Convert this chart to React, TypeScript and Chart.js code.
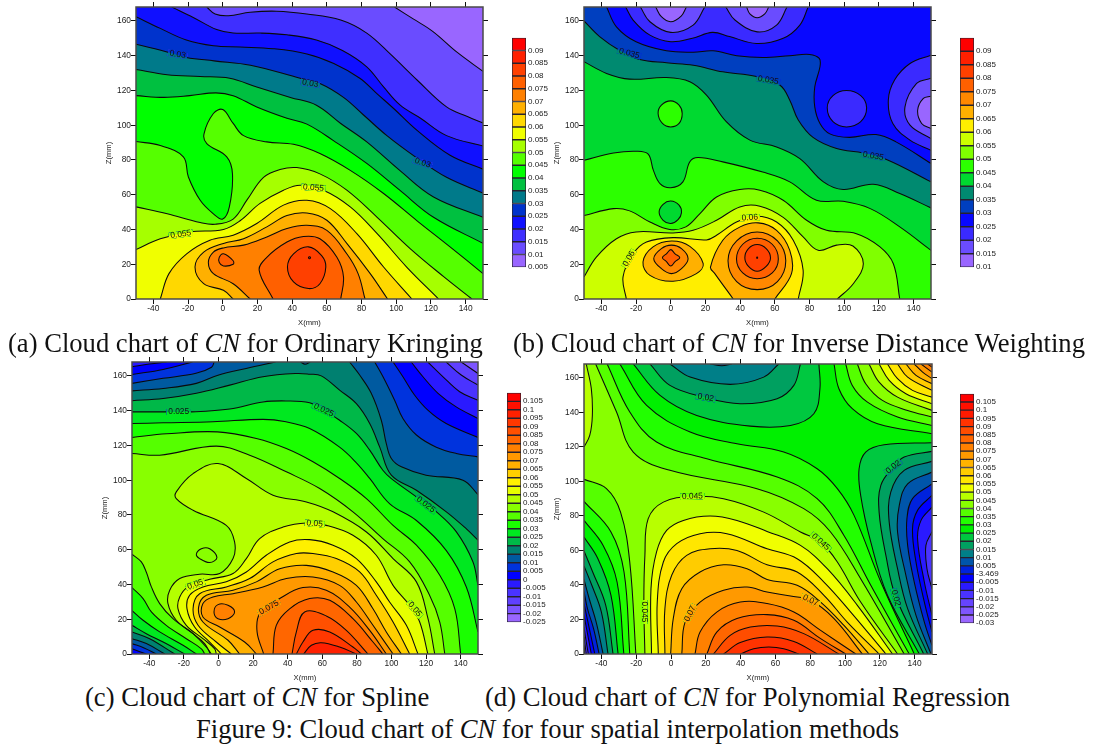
import React, { useEffect, useRef } from "react";
import { Chart, registerables } from "chart.js";

Chart.register(...registerables);

type Pt = [number, number];
type Shape = { i: number; seq: (Pt[] | Pt)[]; loop?: boolean };
type Tag = { x: number; z: number; a: number; t: string };

const X_TICKS = [-40, -20, 0, 20, 40, 60, 80, 100, 120, 140];
const Z_TICKS = [0, 20, 40, 60, 80, 100, 120, 140, 160];
const TL: Pt = [-50, 168];
const TR: Pt = [150, 168];
const BL: Pt = [-50, 0];
const BR: Pt = [150, 0];

/* ---------- colour-bar levels ---------- */
const A_TICKS = [0.005, 0.01, 0.015, 0.02, 0.025, 0.03, 0.035, 0.04, 0.045, 0.05, 0.055, 0.06, 0.065, 0.07, 0.075, 0.08, 0.085, 0.09];
const B_TICKS = [0.01, 0.015, 0.02, 0.025, 0.03, 0.035, 0.04, 0.045, 0.05, 0.055, 0.06, 0.065, 0.07, 0.075, 0.08, 0.085, 0.09];
const C_TICKS = [-0.025, -0.02, -0.015, -0.01, -0.005, 0, 0.005, 0.01, 0.015, 0.02, 0.025, 0.03, 0.035, 0.04, 0.045, 0.05, 0.055, 0.06, 0.065, 0.07, 0.075, 0.08, 0.085, 0.09, 0.095, 0.1, 0.105];
const D_TICKS = [-0.03, -0.025, -0.02, -0.015, -0.01, -0.005, 0, 0.005, 0.01, 0.015, 0.02, 0.025, 0.03, 0.035, 0.04, 0.045, 0.05, 0.055, 0.06, 0.065, 0.07, 0.075, 0.08, 0.085, 0.09, 0.095, 0.1, 0.105];

const A_COLORS = ["#9966ff", "#6a4cff", "#3f2fff", "#1010ff", "#0033cc", "#007a8a", "#00c040", "#00ff00", "#55ff00", "#a6ff00", "#f0ff00", "#ffd800", "#ffb000", "#ff8000", "#ff6000", "#ff4000", "#ff2000", "#ff0000"];
const B_COLORS = ["#9966ff", "#6a4cff", "#3a2aff", "#0808ff", "#003fbf", "#008a70", "#00d930", "#2cff00", "#80ff00", "#ccff00", "#ffee00", "#ffb000", "#ff8800", "#ff6000", "#ff4000", "#ff2000", "#ff0000"];
const C_COLORS = ["#9966ff", "#7d55ff", "#6040ff", "#4a33ff", "#2a1aff", "#0000ff", "#0033dd", "#005aa0", "#008070", "#00b848", "#00e820", "#1aff00", "#55ff00", "#88ff00", "#b4ff00", "#e6ff00", "#fff000", "#ffcf00", "#ffb000", "#ff9800", "#ff8000", "#ff6600", "#ff5000", "#ff3800", "#ff2000", "#ff1000", "#ff0000"];
const D_COLORS = ["#9966ff", "#7f55ff", "#6644ff", "#4a33ff", "#2a1aff", "#0000ff", "#0022dd", "#0055aa", "#007f88", "#00a060", "#00c840", "#00f000", "#22ff00", "#55ff00", "#88ff00", "#b8ff00", "#f0ff00", "#ffe600", "#ffcc00", "#ffb300", "#ff9900", "#ff8000", "#ff6600", "#ff4d00", "#ff3300", "#ff1a00", "#ff1000", "#ff0000"];

/* ---------- panel (a) iso-lines, [X mm, Z mm] ---------- */
const A010: Pt[] = [[99, 168], [110, 161], [121, 154], [135, 142], [150, 131]];
const A015: Pt[] = [[-9.2, 168], [-4.4, 164], [3.3, 163], [15.8, 165], [31, 165.6], [48.5, 164], [68, 160.5], [83, 153], [96.5, 141], [112, 126], [129, 110.5], [141, 105], [150, 101.3]];
const A020: Pt[] = [[-29.4, 168], [-17, 162], [-3.5, 155], [6, 153], [21.5, 153], [37, 152], [54, 149], [69, 143], [83, 133.6], [92.7, 122], [102.3, 111.5], [114, 104], [129, 94], [150, 88]];
const A025: Pt[] = [[-50, 162.4], [-36, 155.7], [-21, 149], [-5.4, 145.7], [10, 145], [29, 144], [48.5, 141], [64, 135.5], [79, 127], [89, 118], [98.5, 109.6], [112, 97], [131, 82.7], [150, 74.7]];
const A030: Pt[] = [[-50, 146.6], [-30, 141.6], [-21, 139], [-5, 137], [16, 134.5], [44.6, 127], [56, 124], [69.6, 116], [81, 106], [94.6, 94], [111, 81.8], [129, 70], [150, 61]];
const A035: Pt[] = [[-50, 132], [-32, 129], [-13, 128], [4, 127], [19.6, 122], [39, 116], [54, 111.5], [68, 101], [83, 90.4], [102, 74], [121.5, 58.7], [150, 47]];
const A040: Pt[] = [[-50, 117], [-34, 116], [-19, 117], [-4, 118.6], [6, 117], [19.6, 110.5], [37, 104], [48.5, 100.6], [64, 91], [83, 78], [102, 62.6], [121.5, 47], [150, 32]];
const A045: Pt[] = [[-50, 90.6], [-36, 88.3], [-22.7, 81.8], [-19.8, 70.2], [-13, 56.8], [-5.4, 49], [0, 46], [3.8, 53], [5.6, 72], [2.3, 81.8], [-9.2, 89.4], [-10.8, 95], [-5.4, 106.7], [0, 109], [6, 101], [12, 94], [25.4, 90.4], [40.8, 89], [56, 83.7], [73.5, 74], [92.7, 60.7], [112, 45], [131, 30], [150, 14.6]];
const A050: Pt[] = [[-50, 53], [-32, 49], [-13, 44], [-4.4, 43], [6, 46], [14, 57], [23.5, 70], [33, 74.5], [42.7, 75.6], [56, 72], [71.5, 62.6], [89, 47], [108, 29], [127.5, 12.7], [143.6, 0]];
const A055: Pt[] = [[-50, 28.4], [-36, 34.7], [-19, 38.6], [0.4, 40], [10, 45], [21.5, 55], [35, 62.6], [44.6, 65.5], [58, 62.6], [73.5, 53], [89, 37.6], [106, 18.4], [124.4, 0]];
const A060: Pt[] = [[-36, 0], [-31, 14.6], [-20.8, 26], [-7.4, 33.8], [6, 36.7], [19.6, 43.4], [35, 54], [48.5, 56.8], [62, 52], [77.3, 37.6], [92.7, 18.4], [109, 0]];
const A065: Pt[] = [[6, 0], [0.4, 5], [-11, 8.8], [-16, 18.4], [-11, 27], [0.4, 32], [12, 34.7], [25.4, 41.5], [37, 48], [48.5, 49.5], [60, 45.3], [71.5, 32], [85, 14.6], [95, 0]];
const A070: Pt[] = [[15.8, 0], [6, 8.8], [-5.4, 14.6], [-8.3, 21], [-5.4, 27], [0.4, 29.4], [12, 31], [25.4, 35.7], [37, 40.5], [48.5, 42.4], [60, 39.5], [71.5, 26], [78, 14.6], [82, 0]];
const A075: Pt[] = [[29, 0], [21, 16.5], [25.4, 24], [37, 32.8], [46.5, 36], [56, 34.7], [65.8, 24], [69.6, 12.7], [68, 0]];
const A075B: Pt[] = [[-2, 24], [0.4, 26], [6, 22], [6, 20], [0.4, 19], [-2, 21]];
const A080: Pt[] = [[37.3, 18.4], [40.8, 26], [49.4, 30], [57, 25], [59.4, 18.4], [56, 8.8], [49.4, 6], [40.8, 9.8]];
const A085: Pt[] = [[49.4, 23.8], [50.2, 24.3], [50.6, 23.6], [49.9, 23.2]];

const A_SHAPES: Shape[] = [
  { i: 1, seq: [A010, BR, BL, TL] }, { i: 2, seq: [A015, BR, BL, TL] }, { i: 3, seq: [A020, BR, BL, TL] },
  { i: 4, seq: [A025, BR, BL] }, { i: 5, seq: [A030, BR, BL] }, { i: 6, seq: [A035, BR, BL] }, { i: 7, seq: [A040, BR, BL] },
  { i: 8, seq: [A045, BR, BL] }, { i: 9, seq: [A050, BL] }, { i: 10, seq: [A055, BL] },
  { i: 11, seq: [A060] }, { i: 12, seq: [A065] }, { i: 13, seq: [A070] }, { i: 14, seq: [A075] },
  { i: 14, seq: [A075B], loop: true }, { i: 15, seq: [A080], loop: true }, { i: 16, seq: [A085], loop: true },
];
const A_TAGS: Tag[] = [
  { x: -26, z: 140.7, a: 10, t: "0.03" }, { x: 50.4, z: 124, a: 10, t: "0.03" }, { x: 115.2, z: 78.3, a: 18, t: "0.03" },
  { x: -24.2, z: 37.2, a: -8, t: "0.055" }, { x: 52.3, z: 64, a: 5, t: "0.055" },
];

/* ---------- panel (b) iso-lines ---------- */
const B030: Pt[] = [[-37, 168], [-31.3, 156.6], [-20, 148], [-2.5, 142.8], [13, 142], [24.4, 142.8], [38, 140], [53, 139], [68.6, 140], [80, 140.7], [85.6, 138.4], [86, 133.6], [83, 122], [83, 110.5], [86, 101], [91.7, 95], [103, 93], [118.3, 94.6], [129.8, 90.4], [150, 78]];
const B035: Pt[] = [[-50, 160], [-41, 151], [-29.4, 143], [-17.9, 137.8], [-2.5, 135.9], [13, 134.5], [30, 130.7], [49.4, 128], [63, 123], [68.6, 114.4], [73.5, 103], [82, 93], [95.6, 86.6], [111, 84], [125, 80], [150, 67.4]];
const B040: Pt[] = [[-50, 136.5], [-37, 129.8], [-23.7, 126.5], [-2.5, 127.4], [11, 125], [20.6, 117.3], [32, 102], [45.6, 91.4], [61, 87.5], [74.4, 80.8], [88, 67.4], [99.4, 63], [116.7, 66], [132, 60.7], [150, 52.4]];
const B045: Pt[] = [[-50, 79.8], [-33, 84], [-19.8, 85], [-13, 83.3], [-10, 74], [-6.2, 66.4], [0, 64], [7, 67.4], [11, 79], [15.8, 81.4], [30, 78.9], [53, 73], [68.6, 67.4], [84, 56.8], [99.4, 56.2], [115, 52], [132, 41.5], [150, 28]];
const B045LOW: Pt[] = [[-6.7, 50], [-4.4, 54.5], [0, 56.4], [4.8, 54], [6.2, 49.7], [4.2, 45.7], [0, 43.4], [-4.4, 45.3]];
const B045HIGH: Pt[] = [[-7.3, 106.7], [-5.4, 111.5], [0, 114], [4.8, 111.5], [6.6, 106.7], [4.8, 101], [0, 99], [-4.8, 101]];
const B050: Pt[] = [[-50, 48], [-33, 52], [-23.7, 50.7], [-12, 44.3], [-0.6, 40], [8.7, 41.5], [16.7, 49], [26.4, 58.7], [39.8, 63], [51.4, 62.6], [64.8, 56.8], [78.3, 45.3], [89.8, 39.5], [107, 37.6], [120.6, 30], [128.3, 20.3], [132, 0]];
const B055: Pt[] = [[-50, 12.7], [-43, 24], [-31.3, 34.7], [-20, 38.6], [1.3, 38], [12.9, 39.5], [26.4, 45.3], [39.8, 53], [51.4, 53.4], [64.8, 47], [76.3, 35.7], [85, 28], [95.6, 31], [105, 30.5], [111, 20.3], [105.2, 8.8], [96, 0]];
const B060: Pt[] = [[-25.6, 0], [-27.5, 12.7], [-21.7, 26], [-14, 32.8], [1.3, 35.3], [20.6, 34], [26.4, 36.7], [37.9, 44.3], [49.4, 47.6], [61, 44.3], [70.6, 33.8], [76.3, 16.5], [73.5, 0]];
const B065L: Pt[] = [[-16, 21.3], [-10.2, 30], [0.4, 33.4], [11, 30.3], [18.7, 20.3], [14.8, 14.6], [1.3, 10.2], [-12, 13.6]];
const B065R: Pt[] = [[36, 0], [25.4, 14.6], [22.9, 18.4], [30, 33.8], [40, 41.5], [50.4, 43.8], [61, 39.5], [68.6, 28], [69.6, 14.6], [60, 0]];
const B070L: Pt[] = [[-9.8, 23.2], [-5.4, 29], [0.4, 31], [6.2, 29], [10, 23.2], [6.2, 17.5], [0.4, 14.6], [-5.4, 17.5]];
const B075L: Pt[] = [[-4.8, 23.8], [-2.5, 26], [0, 28.4], [2.5, 26], [5.2, 23.8], [2.5, 21.5], [0, 19], [-2.5, 21.5]];
const B070R: Pt[] = [[33, 22], [38, 33.5], [49.8, 38.6], [61.5, 33.5], [66.3, 22], [61.5, 10], [49.8, 5.4], [38, 10]];
const B075R: Pt[] = [[37.9, 23], [41.5, 31.5], [49.8, 35], [58.5, 31.5], [62, 23], [58.5, 15], [49.8, 11.7], [41.5, 15]];
const B080R: Pt[] = [[42.7, 23.8], [44.8, 29], [49.8, 31.3], [55, 29], [57.5, 23.8], [55, 18.8], [49.8, 16], [44.8, 18.8]];
const B085R: Pt[] = [[49.5, 23.8], [49.8, 24.2], [50.1, 23.8], [49.8, 23.4]];
const B025TOP: Pt[] = [[-26, 168], [-21.7, 160.5], [-12, 151.8], [0, 148], [12.5, 150], [24, 153.4], [33.9, 151], [49.4, 147], [64.8, 150], [74.4, 157.6], [79.2, 168]];
const B020TOPL: Pt[] = [[-17.5, 168], [-12, 159.5], [0, 153.4], [12.9, 157.6], [19.6, 168]];
const B020TOPR: Pt[] = [[31.7, 168], [37, 160.5], [49.8, 153.7], [61, 157.6], [67, 168]];
const B015TOPL: Pt[] = [[-8.7, 168], [-5.4, 162.4], [0, 159.5], [6, 162.8], [9, 168]];
const B015TOPR: Pt[] = [[43.7, 168], [45.6, 164], [49.8, 161.8], [54.2, 164], [56.5, 168]];
const B025MID: Pt[] = [[90.2, 110], [93.5, 117], [101.3, 120], [109.5, 117], [112.9, 110], [109.5, 102], [101.3, 99], [93.5, 102]];
const B025SIDE: Pt[] = [[150, 140.3], [137.9, 135.5], [129, 126], [125.4, 114.4], [128, 101], [137.9, 91.4], [150, 85.6]];
const B020SIDE: Pt[] = [[150, 127], [141.7, 124], [135, 110.5], [137.9, 100], [150, 92.3]];
const B015SIDE: Pt[] = [[150, 116.7], [145.6, 115.4], [142.3, 108.6], [144.6, 101], [150, 98]];

const B_SHAPES: Shape[] = [
  { i: 4, seq: [B030, BR, BL, TL] }, { i: 5, seq: [B035, BR, BL] }, { i: 6, seq: [B040, BR, BL] }, { i: 7, seq: [B045, BR, BL] },
  { i: 6, seq: [B045LOW], loop: true }, { i: 7, seq: [B045HIGH], loop: true },
  { i: 8, seq: [B050, BL] }, { i: 9, seq: [B055, BL] }, { i: 10, seq: [B060] },
  { i: 11, seq: [B065L], loop: true }, { i: 11, seq: [B065R] },
  { i: 12, seq: [B070L], loop: true }, { i: 13, seq: [B075L], loop: true },
  { i: 12, seq: [B070R], loop: true }, { i: 13, seq: [B075R], loop: true }, { i: 14, seq: [B080R], loop: true }, { i: 15, seq: [B085R], loop: true },
  { i: 2, seq: [B025TOP] }, { i: 1, seq: [B020TOPL] }, { i: 1, seq: [B020TOPR] }, { i: 0, seq: [B015TOPL] }, { i: 0, seq: [B015TOPR] },
  { i: 2, seq: [B025MID], loop: true }, { i: 2, seq: [B025SIDE] }, { i: 1, seq: [B020SIDE] }, { i: 0, seq: [B015SIDE] },
];
const B_TAGS: Tag[] = [
  { x: -24, z: 141.3, a: 15, t: "0.035" }, { x: 56.2, z: 125.9, a: 10, t: "0.035" }, { x: 116.7, z: 82.3, a: 10, t: "0.035" },
  { x: 45.6, z: 46.8, a: -3, t: "0.06" }, { x: -24, z: 23.2, a: -60, t: "0.06" },
];

/* ---------- panel (c) iso-lines ---------- */
const C_T7: Pt[] = [[140.3, 168], [150, 161.4]];
const C_T6: Pt[] = [[131.6, 168], [140.3, 160.5], [150, 154.7]];
const C_T5: Pt[] = [[121, 168], [129.8, 159.5], [139.4, 150.9], [150, 146]];
const C_T4: Pt[] = [[111.4, 168], [118.2, 159.5], [126.9, 150], [137.4, 142.2], [150, 135.5]];
const C_T3: Pt[] = [[100.9, 168], [106.6, 159.5], [113.3, 149], [121, 140.3], [131.6, 132.6], [150, 124.6]];
const C_T2: Pt[] = [[90.3, 168], [95.1, 159.5], [101.8, 146], [106.6, 135.5], [114.4, 126], [125.9, 119], [137.4, 115.4], [150, 113.4]];
const C_T1: Pt[] = [[75.8, 168], [81.6, 160.5], [88.3, 150], [94.1, 134.5], [97, 121], [99.9, 112.5], [105.7, 107.7], [120, 102.9], [141.3, 100], [150, 91.7]];
const C_L000: Pt[] = [[-50, 165.3], [-40, 166.8], [-30, 168]];
const C_L005: Pt[] = [[-50, 160.8], [-32, 163.7], [-15, 168]];
const C_L010: Pt[] = [[-50, 155.7], [-32, 158.6], [-13, 161.5], [-4, 165], [-2.5, 168]];
const C_L015: Pt[] = [[-50, 151.4], [-32, 152.8], [-12.8, 155.7], [-0.3, 160.4], [16, 164.3], [33, 168]];
const C020: Pt[] = [[-50, 145.7], [-32, 147], [-12.8, 150], [6.5, 154.7], [25.7, 159.5], [45, 161.4], [52.7, 161], [59.4, 160], [70, 151.8], [79.7, 144], [87.4, 132.6], [93.2, 119], [99.9, 102.9], [114.4, 94.2], [131.7, 81.8], [143.3, 72], [150, 65.5]];
const C025: Pt[] = [[-50, 139.3], [-30, 139.3], [-15.7, 139.3], [6.5, 141], [25.7, 145], [39, 145.6], [52.7, 144.5], [60.8, 140.3], [70, 134.5], [79.7, 126.9], [87.4, 117.3], [95, 105.7], [99.9, 100.9], [114.4, 90.4], [126, 81.8], [137.4, 70.4], [147, 53.2], [150, 39.5]];
const C030: Pt[] = [[-50, 132.6], [-32, 133], [-3.2, 133.6], [25.7, 135], [39, 133.6], [52.7, 129.7], [70, 119], [79.7, 110], [87.4, 101], [99, 86.4], [114.4, 76.8], [131.7, 59.5], [143.3, 38.4], [150, 12.7]];
const C035: Pt[] = [[-50, 124.6], [-30, 126.7], [-0.6, 127.8], [21.9, 124], [39.2, 118.2], [54.6, 110.6], [70, 101], [85.5, 89.4], [100.9, 74], [114.4, 62.6], [127.9, 45.3], [136.6, 26], [140, 0]];
const C040: Pt[] = [[-50, 115.4], [-34, 114.4], [-1.3, 119.6], [18, 114.4], [39.2, 104.8], [58.5, 95.2], [77.7, 81.8], [95, 66.4], [110.5, 53], [122, 33.8], [127.9, 18.4], [130.8, 0]];
const C_B005: Pt[] = [[-41.7, 0], [-50, 3]];
const C_B010: Pt[] = [[-36, 0], [-43, 3.5], [-50, 6]];
const C_B015: Pt[] = [[-31, 0], [-41.7, 6], [-50, 8.8]];
const C_B020: Pt[] = [[-25.3, 0], [-39.8, 8.8], [-50, 12.7]];
const C_B025: Pt[] = [[-19.6, 0], [-32, 6.9], [-41.7, 11.7], [-50, 16.5]];
const C_B030: Pt[] = [[-12.8, 0], [-20.5, 5], [-34, 12.7], [-43.6, 19.4], [-50, 25]];
const C_B035: Pt[] = [[-8, 0], [-9.9, 3], [-18.6, 8.8], [-30.2, 16.5], [-38.8, 24.2], [-43.6, 31.9], [-50, 38.2]];
const C_B040: Pt[] = [[-4.7, 0], [-8, 6], [-14.7, 11.7], [-26.3, 20.3], [-34, 29], [-38.8, 38.6], [-41.7, 47], [-44.6, 53], [-50, 57.4]];
const C045: Pt[] = [[-4.1, 0], [-7, 4], [-14.7, 11.7], [-24.4, 19.4], [-29.2, 29], [-28.2, 36.7], [-22.4, 43.4], [-10.9, 45.9], [0.7, 46.3], [8.4, 54.9], [9.3, 64.5], [4.5, 74], [-14.7, 82.7], [-24.4, 89.4], [-24.4, 93.3], [-14.7, 103.8], [-0.3, 109.6], [16.1, 101], [31.5, 91.4], [50.8, 87.5], [66.2, 81.8], [85.5, 70.2], [100.9, 54.9], [114.4, 41.5], [121.1, 20.3], [125, 0]];
const C045LOW: Pt[] = [[-12.8, 57.4], [-9.9, 60.6], [-5.1, 60.6], [-0.9, 55.5], [-5.1, 52.6], [-10.9, 54.9]];
const C050: Pt[] = [[-1.3, 0], [-2.2, 3], [-9, 8.8], [-18.6, 16.5], [-23.4, 26], [-22.4, 32.8], [-17.6, 38.6], [-5.1, 43], [8.4, 46.3], [16.1, 54.9], [23.8, 66.4], [37.3, 73], [50.8, 75.4], [62.3, 74], [77.7, 68.3], [91.2, 56.8], [100.9, 39.5], [110.5, 28], [116.3, 18.4], [121, 0]];
const C055: Pt[] = [[1.6, 0], [-5.1, 6.9], [-13.8, 15.5], [-18.2, 26], [-16.7, 33.8], [-9, 38.6], [4.5, 41.5], [16.1, 47.2], [27.6, 56.8], [41.1, 64.5], [52.7, 65.8], [66.2, 62.6], [79.7, 54.9], [91.2, 41.5], [98.9, 29.9], [108.6, 16.5], [115.3, 0]];
const C060: Pt[] = [[7.4, 0], [-1.3, 6.9], [-11.8, 16.5], [-14.7, 26], [-10.9, 34.7], [4.5, 38.6], [18, 43.4], [31.5, 53], [45, 57.8], [54.6, 57.8], [68.1, 54.9], [81.6, 47.2], [91.2, 33.8], [100.9, 18.4], [110.5, 0]];
const C065: Pt[] = [[12.2, 0], [5.5, 7.9], [-9, 18.4], [-11.5, 27], [-7, 33.8], [8.4, 36.7], [21.9, 41.5], [35.4, 49], [50.8, 51], [66.2, 47.2], [79.7, 39.5], [89.3, 26], [97, 12.7], [105.7, 0]];
const C070: Pt[] = [[21.9, 0], [15.1, 6.9], [0.7, 15.5], [-9, 21.3], [-9, 29], [-3.2, 32.8], [8.4, 34.7], [25.7, 38.6], [39.2, 43.4], [54.6, 44.3], [70, 39.5], [79.7, 29.9], [89.3, 16.5], [100.9, 0]];
const C075: Pt[] = [[26.1, 0], [22.3, 12.7], [23.8, 23.2], [35.4, 31.9], [48.8, 38.2], [62.3, 36.7], [75.8, 27], [87.4, 13.6], [97, 0]];
const C075B: Pt[] = [[-2.6, 24.2], [-0.3, 28.4], [5.5, 28], [9.3, 24.2], [5.5, 20.3], [-0.3, 20.3]];
const C080: Pt[] = [[31.5, 0], [33.4, 16.5], [41.1, 26], [52.7, 31.9], [64.3, 30.9], [77.7, 20.3], [89.3, 6.9], [95, 0]];
const C085: Pt[] = [[42.5, 0], [45, 12.7], [49.8, 24.2], [62.3, 21.9], [73.9, 13.6], [86.4, 0]];
const C090: Pt[] = [[45, 0], [48.8, 6.9], [54.6, 13.6], [64.3, 12.7], [77.7, 4], [82.6, 0]];
const C095: Pt[] = [[49.2, 0], [53.7, 5], [59.4, 6.5], [70, 4], [79.7, 0]];
const C_BLIP: Pt[] = [[47.5, 168], [50, 166.7], [53, 168]];

const C_SHAPES: Shape[] = [
  { i: 2, seq: [C_T7, BR, BL, TL] }, { i: 3, seq: [C_T6, BR, BL, TL] }, { i: 4, seq: [C_T5, BR, BL, TL] },
  { i: 5, seq: [C_L000, C_T4, BR, BL] },
  { i: 6, seq: [C_L005, C_T3, BR, C_B005] }, { i: 7, seq: [C_L010, C_T2, BR, C_B010] }, { i: 8, seq: [C_L015, C_T1, BR, C_B015] },
  { i: 7, seq: [C_BLIP] },
  { i: 9, seq: [C020, BR, C_B020] }, { i: 10, seq: [C025, BR, C_B025] }, { i: 11, seq: [C030, BR, C_B030] },
  { i: 12, seq: [C035, C_B035] }, { i: 13, seq: [C040, C_B040] }, { i: 14, seq: [C045] }, { i: 13, seq: [C045LOW], loop: true },
  { i: 15, seq: [C050] }, { i: 16, seq: [C055] }, { i: 17, seq: [C060] }, { i: 18, seq: [C065] }, { i: 19, seq: [C070] },
  { i: 20, seq: [C075] }, { i: 20, seq: [C075B], loop: true }, { i: 21, seq: [C080] }, { i: 22, seq: [C085] }, { i: 23, seq: [C090] }, { i: 24, seq: [C095] },
];
const C_TAGS: Tag[] = [
  { x: -23, z: 139.3, a: 0, t: "0.025" }, { x: 60.8, z: 140.3, a: 25, t: "0.025" }, { x: 119.8, z: 86, a: 38, t: "0.025" },
  { x: 55.6, z: 75, a: 5, t: "0.05" }, { x: -13.4, z: 40, a: -18, t: "0.05" }, { x: 113.4, z: 25.7, a: 50, t: "0.05" },
  { x: 29.2, z: 26.7, a: -30, t: "0.075" },
];

/* ---------- panel (d) iso-lines ---------- */
const D_LM20: Pt[] = [[-49.6, 0], [-50, 5]];
const D_LM15: Pt[] = [[-48.7, 0], [-50, 9.8]];
const D_LM10: Pt[] = [[-47.5, 0], [-49, 8.9], [-50, 15.6]];
const D_LM05: Pt[] = [[-45.8, 0], [-47.8, 10.8], [-50, 22.4]];
const D_L000: Pt[] = [[-43.8, 0], [-46.5, 12.7], [-50, 29.2]];
const D_L005: Pt[] = [[-41.3, 0], [-44.5, 14.7], [-48, 26.3], [-50, 36.3]];
const D_L010: Pt[] = [[-39, 0], [-43, 18.5], [-47, 32], [-50, 43.2]];
const D_L015: Pt[] = [[-36.2, 0], [-40, 24.3], [-45.5, 39.8], [-50, 51]];
const D_L020: Pt[] = [[-33.3, 0], [-37.5, 28.2], [-45, 47.5], [-50, 59.7]];
const D_L025: Pt[] = [[-30.4, 0], [-34.5, 34], [-42, 55.2], [-50, 67.8]];
const D_L030: Pt[] = [[-27.1, 0], [-31, 41.7], [-39, 62.9], [-50, 77.4]];
const D_L035: Pt[] = [[-23.7, 0], [-27, 47.5], [-34.5, 70.7], [-50, 88.4]];
const D_L040: Pt[] = [[-20.2, 0], [-23.7, 53.3], [-29, 82.2], [-37.1, 95.8], [-50, 101.2]];
const D_RM10: Pt[] = [[150, 70.9], [146.5, 62.9], [147.1, 49.4], [150, 37.8]];
const D_RM05: Pt[] = [[150, 85.1], [143.7, 77.4], [141.7, 66.8], [145.6, 41.7], [150, 22.4]];
const D_R000: Pt[] = [[150, 91.9], [141.7, 83.2], [138.8, 72.6], [140.8, 53.3], [145.6, 30.1], [150, 12.7]];
const D_R005: Pt[] = [[150, 98.6], [138.8, 90], [135.6, 78.4], [136, 62.9], [139.8, 41.7], [145.6, 18.5], [150, 5]];
const D_R010: Pt[] = [[150, 105.4], [136, 98.6], [131.2, 86.1], [130.2, 70.7], [135, 45.6], [140.8, 22.4], [149.4, 0]];
const D_R015: Pt[] = [[150, 111.6], [134, 106.4], [126.3, 93.8], [125.4, 76.4], [130.2, 49.4], [136, 26.3], [147.5, 0]];
const D_R020: Pt[] = [[150, 117.4], [134, 114.1], [127.7, 108.3], [120.6, 97.7], [119.6, 82.2], [123.5, 57.1], [129.2, 33], [145.2, 0]];
const D_R025: Pt[] = [[150, 122.4], [122.5, 121.2], [111.9, 117], [108.1, 107.3], [109, 91.9], [114.8, 64.9], [124.4, 34], [142.7, 0]];
const D_T010: Pt[] = [[22.5, 168], [29.2, 167], [35, 168]];
const D_T015: Pt[] = [[-0.6, 168], [11, 160.4], [34, 156.2], [53.3, 160.4], [61.9, 168]];
const D_T020: Pt[] = [[-12.1, 168], [-0.6, 155.6], [20, 148.5], [39.8, 145], [61, 147.9], [70.6, 155.6], [74.4, 168]];
const D_T025: Pt[] = [[-21.7, 168], [-6.3, 149.8], [14.8, 138.2], [45.6, 132], [68.7, 132.4], [82.1, 139.2], [85.6, 153.7], [85, 168]];
const D_M030: Pt[] = [[-29.4, 168], [-14, 144], [11, 128.6], [37.9, 121.8], [64.8, 117], [84, 107.3], [95.6, 95.8], [105.2, 80.3], [120.6, 41.7], [139.8, 0]];
const D_M035: Pt[] = [[-36.7, 168], [-23.7, 140.2], [-8.3, 122.8], [20.6, 113.1], [61, 102.5], [84, 90], [99.4, 68.7], [114.8, 39.8], [136.9, 0]];
const D_M040: Pt[] = [[-43.3, 168], [-31.3, 140.2], [-21.7, 117], [-0.6, 106.4], [49.4, 95.8], [76.3, 84.2], [91.7, 70.7], [109, 43.6], [134, 0]];
const D_TL045: Pt[] = [[-48.7, 168], [-45.8, 153.7], [-45.2, 138.2], [-46.7, 126.6], [-50, 119.9]];
const D_M045: Pt[] = [[-15, 0], [-15.6, 30.1], [-15, 57.1], [-13.1, 78.4], [-4.4, 88], [12.3, 91.3], [30.2, 90], [53.3, 82.2], [74.4, 70.7], [86, 64.9], [95.6, 53.3], [109, 30.1], [130.2, 0]];
const D_M050: Pt[] = [[-11.2, 0], [-11.5, 37.8], [-8.3, 59.1], [-2.5, 71.6], [7.1, 77.4], [22.5, 79.9], [37.9, 77.4], [55.2, 71], [74.4, 62.9], [89.8, 49.4], [107.1, 28.2], [127.3, 0]];
const D_M055: Pt[] = [[-7.3, 0], [-7.9, 30.1], [-4.4, 53.3], [3.3, 63.9], [16.7, 69.7], [32.1, 69.7], [55.2, 61], [72.5, 55.2], [87.9, 41.7], [103.3, 24.3], [123.5, 0]];
const D_M060: Pt[] = [[-3.5, 0], [-3.5, 26.3], [0.4, 45.6], [9, 57.1], [22.5, 61], [37.9, 60], [55.2, 51.7], [72.5, 47.5], [87.9, 34], [101.3, 18.5], [119.6, 0]];
const D_M065: Pt[] = [[-0.2, 0], [1.3, 20.5], [6.2, 37.8], [16.7, 47.5], [30.2, 51.7], [43.7, 49.4], [55.2, 43.2], [72.5, 39.8], [86, 30.1], [99.4, 16.6], [113.8, 0]];
const D_M070: Pt[] = [[6.2, 0], [8.1, 18.5], [16.7, 30.1], [30.2, 36.9], [43.7, 38.8], [55.2, 35.9], [68.7, 33.6], [80.2, 31.1], [93.7, 20.5], [110, 0]];
const D_M075: Pt[] = [[13.8, 0], [16.7, 12.7], [26.3, 24.3], [39.8, 30.1], [55.2, 29.2], [70.6, 24.3], [86, 13.7], [106.2, 0]];
const D_M080: Pt[] = [[20.6, 0], [26.3, 12.7], [37.9, 20.5], [55.2, 22.8], [70.6, 19.5], [86, 8.9], [100.4, 0]];
const D_M085: Pt[] = [[24.4, 0], [34, 10.8], [45.6, 15.6], [61, 16.2], [76.3, 11.8], [96.5, 0]];
const D_M090: Pt[] = [[30.2, 0], [39.8, 6.6], [55.2, 9.8], [70.6, 7.3], [84, 0]];
const D_M095: Pt[] = [[39.8, 0], [47.5, 3.1], [56.2, 4.1], [64.8, 3.1], [73.5, 0]];
const D_C030: Pt[] = [[93.7, 168], [96.5, 153.7], [104.2, 142.1], [118.7, 133.4], [150, 127.6]];
const D_C035: Pt[] = [[100.4, 168], [104.2, 155.6], [112.9, 145.9], [130.2, 137.3], [150, 132.4]];
const D_C040: Pt[] = [[107.1, 168], [111.9, 156.6], [121.5, 146.9], [136, 141.1], [150, 137.3]];
const D_C045: Pt[] = [[113.8, 168], [119.6, 157.5], [130.2, 148.8], [150, 141.1]];
const D_C050: Pt[] = [[119.6, 168], [125.4, 158.5], [135, 150.8], [150, 145]];
const D_C055: Pt[] = [[124.4, 168], [130.2, 159.5], [138.8, 152.7], [150, 148.8]];
const D_C060: Pt[] = [[130.2, 168], [136, 160.4], [150, 152.7]];
const D_C065: Pt[] = [[135, 168], [140.8, 161.4], [150, 156.6]];
const D_C070: Pt[] = [[139.8, 168], [144.6, 163.3], [150, 159.5]];
const D_C075: Pt[] = [[143.7, 168], [150, 163.3]];
const D_C080: Pt[] = [[147.5, 168], [150, 166.2]];

const D_SHAPES: Shape[] = [
  { i: 2, seq: [D_LM20, TL, TR, BR] }, { i: 3, seq: [D_LM15, TL, TR, BR] },
  { i: 4, seq: [D_LM10, TL, TR, D_RM10, BR] }, { i: 5, seq: [D_LM05, TL, TR, D_RM05, BR] },
  { i: 6, seq: [D_L000, TL, TR, D_R000, BR] }, { i: 7, seq: [D_L005, TL, TR, D_R005, BR] },
  { i: 8, seq: [D_L010, TL, TR, D_R010] },
  { i: 9, seq: [D_L015, TL, D_T015, TR, D_R015] }, { i: 7, seq: [D_T010] },
  { i: 10, seq: [D_L020, TL, D_T020, TR, D_R020] }, { i: 11, seq: [D_L025, TL, D_T025, TR, D_R025] },
  { i: 12, seq: [D_L030, TL, D_M030] }, { i: 12, seq: [D_C030, TR] },
  { i: 13, seq: [D_L035, TL, D_M035] }, { i: 13, seq: [D_C035, TR] },
  { i: 14, seq: [D_L040, TL, D_M040] }, { i: 14, seq: [D_C040, TR] },
  { i: 15, seq: [D_TL045, TL] }, { i: 15, seq: [D_M045] }, { i: 15, seq: [D_C045, TR] },
  { i: 16, seq: [D_M050] }, { i: 16, seq: [D_C050, TR] }, { i: 17, seq: [D_M055] }, { i: 17, seq: [D_C055, TR] },
  { i: 18, seq: [D_M060] }, { i: 18, seq: [D_C060, TR] }, { i: 19, seq: [D_M065] }, { i: 19, seq: [D_C065, TR] },
  { i: 20, seq: [D_M070] }, { i: 20, seq: [D_C070, TR] }, { i: 21, seq: [D_M075] }, { i: 21, seq: [D_C075, TR] },
  { i: 22, seq: [D_M080] }, { i: 22, seq: [D_C080, TR] }, { i: 23, seq: [D_M085] }, { i: 24, seq: [D_M090] }, { i: 25, seq: [D_M095] },
];
const D_TAGS: Tag[] = [
  { x: 20, z: 148.5, a: 10, t: "0.02" }, { x: 127.7, z: 108.3, a: -38, t: "0.02" }, { x: 129.2, z: 32.4, a: 75, t: "0.02" },
  { x: 12.3, z: 91.3, a: -2, t: "0.045" }, { x: 86, z: 64.9, a: 42, t: "0.045" }, { x: -15.4, z: 24.3, a: 90, t: "0.045" },
  { x: 80.2, z: 31.1, a: 25, t: "0.07" }, { x: 11, z: 23.4, a: -65, t: "0.07" },
];

const SANS = "'Liberation Sans', Arial, sans-serif";
const isCurve = (s: Pt[] | Pt): s is Pt[] => Array.isArray((s as any)[0]);

function ContourPanel(p: { left: number; top: number; w: number; h: number; shapes: Shape[]; colors: string[]; base: number; tags: Tag[] }) {
  const ref = useRef<HTMLCanvasElement>(null);
  useEffect(() => {
    const curves: Pt[][] = [];
    const loops = new Set<number>();
    const index = new Map<Pt[], number>();
    p.shapes.forEach((s) =>
      s.seq.forEach((item) => {
        if (isCurve(item) && !index.has(item)) {
          index.set(item, curves.length);
          if (s.loop) loops.add(curves.length);
          curves.push(item);
        }
      })
    );
    const paint = (chart: any) => {
      const { ctx, chartArea: a, scales } = chart;
      ctx.fillStyle = p.colors[p.base];
      ctx.fillRect(a.left, a.top, a.right - a.left, a.bottom - a.top);
      for (const s of p.shapes) {
        ctx.beginPath();
        let started = false;
        for (const item of s.seq) {
          if (isCurve(item)) {
            const meta = chart.getDatasetMeta(index.get(item));
            meta.dataset.updateControlPoints(a, "x");
            const pts = meta.data;
            if (started) ctx.lineTo(pts[0].x, pts[0].y);
            else ctx.moveTo(pts[0].x, pts[0].y);
            started = true;
            for (let k = 1; k < pts.length; k++) {
              ctx.bezierCurveTo(pts[k - 1].cp2x, pts[k - 1].cp2y, pts[k].cp1x, pts[k].cp1y, pts[k].x, pts[k].y);
            }
            if (s.loop) {
              const l = pts[pts.length - 1];
              ctx.bezierCurveTo(l.cp2x, l.cp2y, pts[0].cp1x, pts[0].cp1y, pts[0].x, pts[0].y);
            }
          } else {
            const x = scales.x.getPixelForValue(item[0]);
            const y = scales.y.getPixelForValue(item[1]);
            if (started) ctx.lineTo(x, y);
            else ctx.moveTo(x, y);
            started = true;
          }
        }
        ctx.closePath();
        ctx.fillStyle = p.colors[s.i];
        ctx.fill();
      }
    };
    const bands = {
      id: "bands",
      afterDatasetsUpdate(chart: any) {
        loops.forEach((d) => {
          const line = chart.getDatasetMeta(d).dataset;
          line._loop = true;
          line._fullLoop = true;
          line.points = line.points;
        });
      },
      beforeDatasetsDraw(chart: any) {
        const { ctx, chartArea: a } = chart;
        ctx.save();
        ctx.beginPath();
        ctx.rect(a.left, a.top, a.right - a.left, a.bottom - a.top);
        ctx.clip();
        paint(chart);
        ctx.restore();
      },
      afterDatasetsDraw(chart: any) {
        const { ctx, chartArea: a, scales } = chart;
        ctx.font = `8.4px ${SANS}`;
        for (const t of p.tags) {
          const x = scales.x.getPixelForValue(t.x);
          const y = scales.y.getPixelForValue(t.z);
          const w = ctx.measureText(t.t).width + 3;
          const rad = (t.a * Math.PI) / 180;
          ctx.save();
          ctx.beginPath();
          ctx.rect(a.left, a.top, a.right - a.left, a.bottom - a.top);
          ctx.clip();
          ctx.translate(x, y);
          ctx.rotate(rad);
          ctx.beginPath();
          ctx.rect(-w / 2, -3, w, 6);
          ctx.clip();
          ctx.rotate(-rad);
          ctx.translate(-x, -y);
          paint(chart);
          ctx.restore();
          ctx.save();
          ctx.translate(x, y);
          ctx.rotate(rad);
          ctx.textAlign = "center";
          ctx.textBaseline = "middle";
          ctx.fillStyle = "#111";
          ctx.font = `8.4px ${SANS}`;
          ctx.fillText(t.t, 0, 0);
          ctx.restore();
        }
        ctx.save();
        ctx.strokeStyle = "#4a4a4a";
        ctx.lineWidth = 1.5;
        ctx.strokeRect(a.left, a.top, a.right - a.left, a.bottom - a.top);
        ctx.restore();
      },
    };
    const grid = { display: true, drawOnChartArea: false, drawTicks: true, tickLength: 5, color: "#111", lineWidth: 1 };
    const labelFont = { family: SANS, size: 8.4 };
    const xTicks = (s: any) => { s.ticks = X_TICKS.map((value) => ({ value })); };
    const zTicks = (s: any) => { s.ticks = Z_TICKS.map((value) => ({ value })); };
    const chart = new Chart(ref.current!, {
      type: "line",
      data: {
        datasets: curves.map((c) => ({
          data: c.map(([x, y]) => ({ x, y })),
          borderColor: "#0a0a0a",
          borderWidth: 1.05,
          pointRadius: 0,
          tension: 0.38,
          fill: false,
        })),
      } as any,
      options: {
        animation: false,
        responsive: false,
        events: [],
        layout: { padding: 0 },
        plugins: { legend: { display: false }, tooltip: { enabled: false } },
        scales: {
          x: {
            type: "linear", position: "bottom", min: -50, max: 150, afterBuildTicks: xTicks,
            afterFit: (s: any) => { s.height = 28; },
            grid, border: { display: false },
            ticks: { font: labelFont, color: "#222", padding: 0, maxRotation: 0, autoSkip: false, callback: (v: any) => String(v) },
            title: { display: true, text: "X(mm)", font: { family: SANS, size: 7.6 }, color: "#222", padding: 0 },
          },
          y: {
            type: "linear", position: "left", min: 0, max: 168, afterBuildTicks: zTicks,
            afterFit: (s: any) => { s.width = 32; },
            grid, border: { display: false },
            ticks: { font: labelFont, color: "#222", padding: 0, autoSkip: false, callback: (v: any) => String(v) },
            title: { display: true, text: "Z(mm)", font: { family: SANS, size: 7.6 }, color: "#222", padding: 0 },
          },
          x2: {
            type: "linear", position: "top", min: -50, max: 150, afterBuildTicks: xTicks,
            afterFit: (s: any) => { s.height = p.top > 7 ? 7 : p.top; },
            grid, border: { display: false }, ticks: { display: false },
          },
          y2: {
            type: "linear", position: "right", min: 0, max: 168, afterBuildTicks: zTicks,
            afterFit: (s: any) => { s.width = 6; },
            grid, border: { display: false }, ticks: { display: false },
          },
        },
      } as any,
      plugins: [bands],
    });
    return () => chart.destroy();
  }, []);
  const topPad = Math.min(p.top, 7);
  return (
    <canvas
      ref={ref}
      width={p.w + 38}
      height={p.h + topPad + 28}
      style={{ position: "absolute", left: p.left - 32, top: p.top - topPad, display: "block" }}
    />
  );
}

function ColorBar(p: { left: number; top: number; w: number; h: number; ticks: number[]; colors: string[]; names?: Record<string, string> }) {
  const ref = useRef<HTMLCanvasElement>(null);
  const axisW = 25;
  useEffect(() => {
    const last = p.ticks[p.ticks.length - 1] + 0.005;
    const chart = new Chart(ref.current!, {
      type: "bar",
      data: {
        labels: ["CN"],
        datasets: p.ticks.map((lo, i) => ({
          data: [[lo, i + 1 < p.ticks.length ? p.ticks[i + 1] : last]],
          backgroundColor: p.colors[i],
          borderColor: "#26222e",
          borderWidth: 1,
          borderSkipped: false,
          grouped: false,
          categoryPercentage: 1,
          barPercentage: 1,
        })),
      } as any,
      options: {
        animation: false,
        responsive: false,
        events: [],
        layout: { padding: { top: 6, bottom: 6 } },
        plugins: { legend: { display: false }, tooltip: { enabled: false } },
        scales: {
          x: { display: false },
          y: {
            type: "linear", position: "right", min: p.ticks[0], max: last,
            afterBuildTicks: (s: any) => { s.ticks = p.ticks.map((value) => ({ value })); },
            afterFit: (s: any) => { s.width = axisW; },
            grid: { display: false, drawTicks: false }, border: { display: false },
            ticks: {
              font: { family: SANS, size: 8 }, color: "#222", padding: 2, autoSkip: false,
              callback: (v: any) => {
                const s = String(v);
                return p.names && p.names[s] ? p.names[s] : s;
              },
            },
          },
        },
      } as any,
    });
    return () => chart.destroy();
  }, []);
  return (
    <canvas
      ref={ref}
      width={p.w + axisW}
      height={p.h + 12}
      style={{ position: "absolute", left: p.left, top: p.top - 6, display: "block" }}
    />
  );
}

function Caption(p: { left: number; top: number; children: React.ReactNode }) {
  return (
    <div
      style={{
        position: "absolute", left: p.left, top: p.top, whiteSpace: "nowrap", color: "#111",
        fontFamily: "'Liberation Serif', 'Times New Roman', serif", fontSize: 26.6, lineHeight: "28px",
      }}
    >
      {p.children}
    </div>
  );
}

export default function App() {
  return (
    <div style={{ position: "absolute", left: 0, top: 0, width: 1096, height: 746, background: "#fff", overflow: "hidden" }}>
      <ContourPanel left={136} top={7} w={347} h={292} shapes={A_SHAPES} colors={A_COLORS} base={0} tags={A_TAGS} />
      <ContourPanel left={584} top={7} w={347} h={292} shapes={B_SHAPES} colors={B_COLORS} base={3} tags={B_TAGS} />
      <ContourPanel left={132} top={362} w={346} h={292} shapes={C_SHAPES} colors={C_COLORS} base={1} tags={C_TAGS} />
      <ContourPanel left={584} top={364} w={348} h={290} shapes={D_SHAPES} colors={D_COLORS} base={1} tags={D_TAGS} />
      <ColorBar left={512} top={37} w={14} h={231} ticks={A_TICKS} colors={A_COLORS} />
      <ColorBar left={960} top={37} w={14} h={231} ticks={B_TICKS} colors={B_COLORS} />
      <ColorBar left={507} top={392} w={14} h={231} ticks={C_TICKS} colors={C_COLORS} />
      <ColorBar left={960} top={393} w={14} h={231} ticks={D_TICKS} colors={D_COLORS} names={{ "0": "-3.4694" }} />
      <Caption left={8} top={329}>(a) Cloud chart of <i>CN</i> for Ordinary Kringing</Caption>
      <Caption left={513} top={329}>(b) Cloud chart of <i>CN</i> for Inverse Distance Weighting</Caption>
      <Caption left={85} top={683}>(c) Cloud chart of <i>CN</i> for Spline</Caption>
      <Caption left={485} top={683}>(d) Cloud chart of <i>CN</i> for Polynomial Regression</Caption>
      <Caption left={196} top={715}>Figure 9: Cloud chart of <i>CN</i> for four spatial interpolation methods</Caption>
    </div>
  );
}
